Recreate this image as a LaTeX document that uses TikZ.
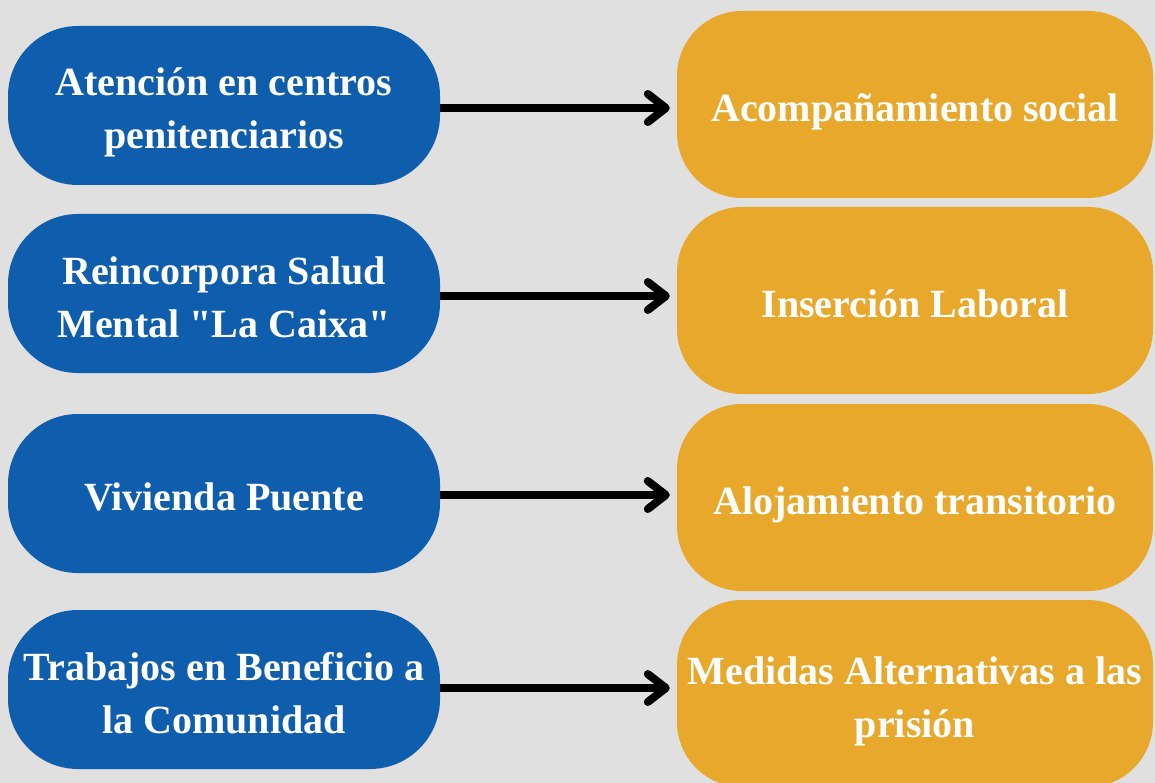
\documentclass[tikz,border=0pt]{standalone}
\usepackage{fontspec}
\setmainfont{Liberation Serif}
\usetikzlibrary{arrows.meta}
\definecolor{bg}{HTML}{E0E0E0}
\definecolor{bluebox}{HTML}{0F5DAD}
\definecolor{orangebox}{HTML}{E7A82C}
\newcommand\tfix{\rule{0pt}{44pt}}
\newcommand\bfix{\rule[-10pt]{0pt}{10pt}}
\tikzset{
  src/.style={fill=bluebox, draw=none, rounded corners=70pt, minimum width=432pt, minimum height=159pt,
    inner sep=0pt, align=center, text=white, font=\fontsize{40}{53}\selectfont\bfseries},
  dst/.style={fill=orangebox, draw=none, rounded corners=65pt, minimum width=476pt, minimum height=187pt,
    inner sep=0pt, align=center, text=white, font=\fontsize{40}{53}\selectfont\bfseries},
  link/.style={line width=8pt, -{Straight Barb[length=18pt, width=28pt, line cap=round, line join=round]}, shorten >=7pt}
}
\begin{document}
\begin{tikzpicture}[x=1pt, y=-1pt]
\fill[bg] (0,0) rectangle (1155,783);
\useasboundingbox (0,0) rectangle (1155,783);
\node[src] (b1) at (224,105.5) {\tfix Atención en centros\\penitenciarios\bfix};
\node[src] (b2) at (224,293.5) {\tfix Reincorpora Salud\\Mental \textquotedbl La Caixa\textquotedbl\bfix};
\node[src] (b3) at (224,493.5) {\tfix Vivienda Puente\bfix};
\node[src] (b4) at (224,689.5) {\tfix Trabajos en Beneficio a\\la Comunidad\bfix};
\node[dst] (o1) at (915,104.5) {\tfix Acompañamiento social\bfix};
\node[dst] (o2) at (915,300.5) {\tfix Inserción Laboral\bfix};
\node[dst] (o3) at (915,497.5) {\tfix Alojamiento transitorio\bfix};
\node[dst] (o4) at (915,693.5) {\tfix Medidas Alternativas a las\\prisión\bfix};
\draw[link] ([yshift=-2.5pt]b1.east) -- ([yshift=-2.5pt]b1.east -| o1.west);
\draw[link] ([yshift=-2.5pt]b2.east) -- ([yshift=-2.5pt]b2.east -| o2.west);
\draw[link] ([yshift=-1.5pt]b3.east) -- ([yshift=-1.5pt]b3.east -| o3.west);
\draw[link] ([yshift=1.5pt]b4.east) -- ([yshift=1.5pt]b4.east -| o4.west);
\end{tikzpicture}
\end{document}
